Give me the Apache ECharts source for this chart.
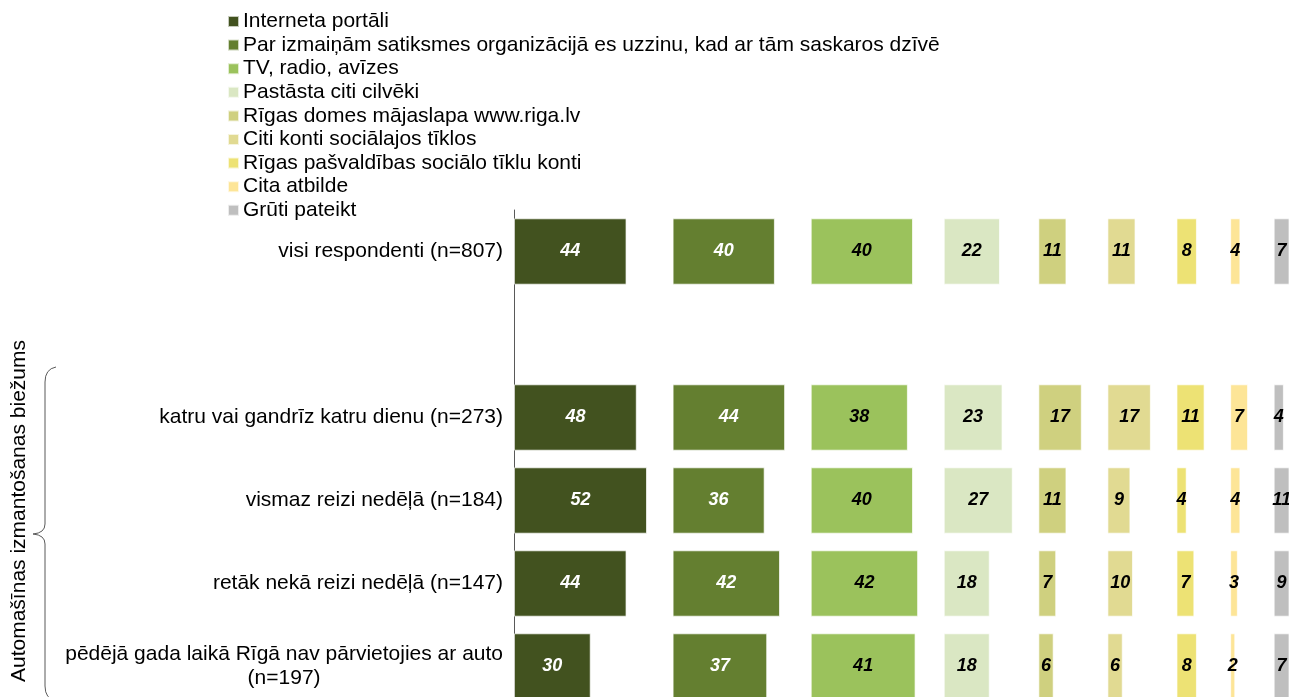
<!DOCTYPE html>
<html>
<head>
<meta charset="utf-8">
<script src="https://cdn.jsdelivr.net/npm/echarts@6/dist/echarts.min.js"></script>
<style>
    html,body{margin:0;padding:0;background:#fff;overflow:hidden;}
    /* attēls ir nogriezts apakšā, tāpēc konteiners ir nedaudz augstāks par logu */
    #chart{width:1289px;height:708px;}
</style>
</head>
<body>
<div id="chart"></div>
<script>
// kategorijas (otrā rinda ir tukša atstarpe)
const categories = [
    'visi respondenti (n=807)',
    '',
    'katru vai gandrīz katru dienu (n=273)',
    'vismaz reizi nedēļā (n=184)',
    'retāk nekā reizi nedēļā (n=147)',
    'pēdējā gada laikā Rīgā nav pārvietojies ar auto\n(n=197)'
];
const seriesNames = [
    'Interneta portāli',
    'Par izmaiņām satiksmes organizācijā es uzzinu, kad ar tām saskaros dzīvē',
    'TV, radio, avīzes',
    'Pastāsta citi cilvēki',
    'Rīgas domes mājaslapa www.riga.lv',
    'Citi konti sociālajos tīklos',
    'Rīgas pašvaldības sociālo tīklu konti',
    'Cita atbilde',
    'Grūti pateikt'
];
const internetaPortali = [44, null, 48, 52, 44, 30];
const saskarosDzive    = [40, null, 44, 36, 42, 37];
const tvRadioAvizes    = [40, null, 38, 40, 42, 41];
const pastastaCiti     = [22, null, 23, 27, 18, 18];
const rigaLv           = [11, null, 17, 11, 7, 6];
const citiKonti        = [11, null, 17, 9, 10, 6];
const pasvaldibasKonti = [8, null, 11, 4, 7, 8];
const citaAtbilde      = [4, null, 7, 4, 3, 2];
const grutiPateikt     = [7, null, 4, 11, 9, 7];

const values = [internetaPortali, saskarosDzive, tvRadioAvizes, pastastaCiti, rigaLv,
                citiKonti, pasvaldibasKonti, citaAtbilde, grutiPateikt];
const colors = ['#42521f', '#647f30', '#9bc25c', '#dae7c3', '#cfd07f',
                '#e1da92', '#ede274', '#fde597', '#bfbfbf'];
const labelColors = ['#fff', '#fff', '#000', '#000', '#000', '#000', '#000', '#000', '#000'];
const GAP = 10;

const myChart = echarts.init(document.getElementById('chart'));

// katras kolonnas sākums = iepriekšējo kolonnu maksimumi + atstarpe
let offsets = [];
let acc = 0;
values.forEach(function(v){
    offsets.push(acc);
    acc += Math.max.apply(null, v.filter(x => x != null)) + GAP;
});

let series = [];
values.forEach(function(v, i){
    // caurspīdīgs starpliktnis
    series.push({
        name: 'spacer' + i,
        type: 'bar',
        stack: 'all',
        silent: true,
        itemStyle: {color: 'transparent'},
        data: v.map(function(x, r){
            if (x == null) return null;
            let prevEnd = i == 0 ? 0 : offsets[i-1] + values[i-1][r];
            return offsets[i] - prevEnd;
        })
    });
    series.push({
        name: seriesNames[i],
        type: 'bar',
        stack: 'all',
        barCategoryGap: '20%',
        itemStyle: {color: colors[i], borderColor: 'rgba(255,255,255,0.7)', borderWidth: 1},
        label: {
            show: true,
            position: 'inside',
            color: labelColors[i],
            fontFamily: 'Liberation Sans',
            fontSize: 18,
            fontWeight: 'bold',
            fontStyle: 'italic'
        },
        data: v
    });
});

const braceStyle = {fill: 'none', stroke: '#595959', lineWidth: 1};

myChart.setOption({
    animation: false,
    textStyle: {fontFamily: 'Liberation Sans'},
    legend: {
        orient: 'vertical',
        left: 227,
        top: 11,
        padding: 0,
        itemWidth: 11,
        itemHeight: 11,
        itemGap: 2.6,
        icon: 'rect',
        data: seriesNames,
        textStyle: {fontSize: 21, color: '#000', lineHeight: 20, padding: [0, 0, 0, -1]}
    },
    grid: {left: 514, top: 210, width: 775, height: 498, containLabel: false},
    xAxis: {
        type: 'value',
        min: 0,
        max: 303,
        show: false
    },
    yAxis: {
        type: 'category',
        inverse: true,
        data: categories,
        axisTick: {show: false},
        axisLine: {show: true, lineStyle: {color: '#595959', width: 1}},
        axisLabel: {
            margin: 11,
            fontSize: 21,
            color: '#000',
            lineHeight: 24,
            formatter: function(val){
                if (val.indexOf('\n') < 0) return val;
                let p = val.split('\n');
                return '{a|' + p[0] + '}\n{b|' + p[1] + '}';
            },
            rich: {
                a: {fontSize: 21, color: '#000', lineHeight: 24},
                b: {fontSize: 21, color: '#000', lineHeight: 24, align: 'center'}
            }
        }
    },
    graphic: [
        {
            type: 'text',
            x: 19,
            y: 511,
            rotation: Math.PI / 2,
            style: {
                text: 'Automašīnas izmantošanas biežums',
                fontFamily: 'Liberation Sans',
                fontSize: 21,
                fill: '#000',
                align: 'center',
                verticalAlign: 'middle'
            }
        },
        {type: 'bezierCurve', shape: {x1: 56, y1: 367, cpx1: 45, cpy1: 369, x2: 45, y2: 382}, style: braceStyle},
        {type: 'line', shape: {x1: 45, y1: 382, x2: 45, y2: 524}, style: braceStyle},
        {type: 'bezierCurve', shape: {x1: 45, y1: 524, cpx1: 45, cpy1: 533, x2: 33, y2: 534}, style: braceStyle},
        {type: 'bezierCurve', shape: {x1: 33, y1: 534, cpx1: 45, cpy1: 535, x2: 45, y2: 544}, style: braceStyle},
        {type: 'line', shape: {x1: 45, y1: 544, x2: 45, y2: 686}, style: braceStyle},
        {type: 'bezierCurve', shape: {x1: 45, y1: 686, cpx1: 45, cpy1: 699, x2: 56, y2: 701}, style: braceStyle}
    ],
    series: series
});
</script>
</body>
</html>
